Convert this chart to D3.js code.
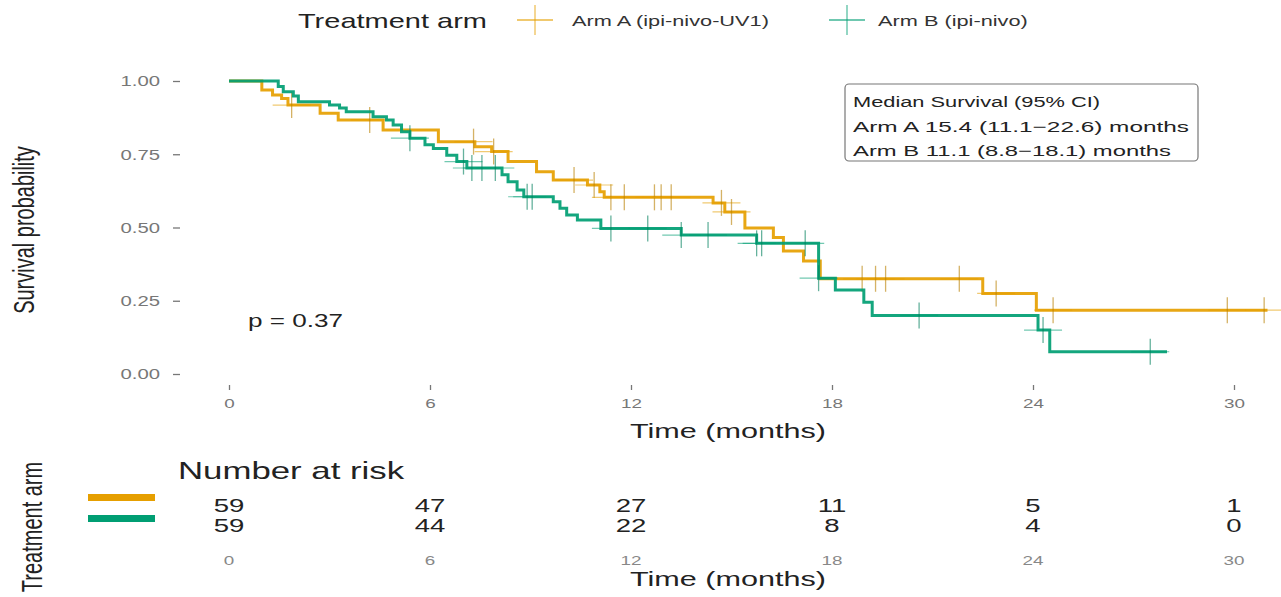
<!DOCTYPE html>
<html>
<head>
<meta charset="utf-8">
<script src="https://cdn.jsdelivr.net/npm/d3@7"></script>
<style>
  html, body { margin: 0; padding: 0; background: #fff; }
  svg { display: block; font-family: "Liberation Sans", Arial, sans-serif; }
</style>
</head>
<body>
<svg id="chart" width="1281" height="597"></svg>
<script>
// Kaplan-Meier steps: event times (months) and survival after each step
const armATimes = [0.98, 1.3, 1.57, 1.76, 2.72, 3.26, 4.6, 6.25, 7.34, 7.84, 8.33, 9.18, 9.68, 10.7, 11.07, 11.2, 14.45, 14.8, 15.4, 16.25, 16.55, 17.15, 17.65, 22.5, 24.1];
const armASurv  = [0.969, 0.952, 0.94, 0.918, 0.89, 0.867, 0.833, 0.793, 0.776, 0.759, 0.725, 0.69, 0.662, 0.645, 0.622, 0.603, 0.584, 0.553, 0.498, 0.466, 0.42, 0.386, 0.325, 0.275, 0.218];
const armAEnd = 31.0;
const armACensor = [1.87, 4.2, 7.3, 7.9, 10.3, 10.9, 11.4, 11.8, 12.7, 12.9, 13.2, 14.7, 15.0, 18.9, 19.3, 19.6, 21.8, 22.9, 24.6, 29.8, 30.9];

const armBTimes = [1.47, 1.62, 1.92, 2.07, 3.0, 3.3, 3.5, 4.3, 4.7, 4.9, 5.15, 5.4, 5.85, 6.1, 6.5, 6.8, 7.1, 8.15, 8.33, 8.6, 8.8, 9.68, 9.88, 10.08, 10.4, 11.1, 13.5, 15.75, 17.6, 18.1, 18.95, 19.2, 24.15, 24.5];
const armBSurv  = [0.981, 0.963, 0.949, 0.929, 0.918, 0.908, 0.895, 0.878, 0.867, 0.85, 0.827, 0.805, 0.782, 0.77, 0.747, 0.725, 0.703, 0.68, 0.656, 0.628, 0.605, 0.588, 0.566, 0.543, 0.526, 0.497, 0.474, 0.446, 0.327, 0.287, 0.245, 0.2, 0.15, 0.076];
const armBEnd = 28.0;
const armBCensor = [5.4, 7.0, 7.25, 7.55, 7.95, 8.9, 9.05, 11.4, 12.5, 13.5, 14.3, 15.75, 15.9, 17.2, 17.6, 20.6, 24.3, 27.5];

// Number at risk table
const riskTimes = [0, 6, 12, 18, 24, 30];
const riskA = [59, 47, 27, 11, 5, 1];
const riskB = [59, 44, 22, 8, 4, 0];

const yTicks = [0, 0.25, 0.5, 0.75, 1];
const armLabels = ["Arm A (ipi-nivo-UV1)", "Arm B (ipi-nivo)"];
const medianLines = ["Median Survival (95% CI)", "Arm A 15.4 (11.1\u221222.6) months", "Arm B 11.1 (8.8\u221218.1) months"];
const pText = "p = 0.37";

const colA = "#E69F00", colB = "#009E73";
const SX = 1.45;   // horizontal text stretch of the output

const svg = d3.select("#chart");
const x = d3.scaleLinear().domain([0, 30]).range([229, 1234]);
const y = d3.scaleLinear().domain([0, 1]).range([374, 81]);

function label(parent, px, py, str, o) {
  const t = parent.append("text")
    .attr("transform", `translate(${px},${py}) scale(${SX},1)` + (o.rotate ? ` rotate(${o.rotate})` : ""))
    .attr("text-anchor", o.anchor || "start")
    .style("font-size", o.size + "px")
    .attr("fill", o.fill || "#222")
    .text(str);
  if (o.dy) t.attr("dy", o.dy);
  if (o.width) t.attr("textLength", o.width / SX).attr("lengthAdjust", "spacingAndGlyphs");
  return t;
}

// ---- legend ----
const leg = svg.append("g");
label(leg, 298, 28, "Treatment arm", {size: 20, fill: "#222"});
function key(cx, col) {
  leg.append("line").attr("x1", cx - 18).attr("x2", cx + 18).attr("y1", 20).attr("y2", 20)
    .attr("stroke", col).attr("stroke-width", 1.6).attr("opacity", 0.75);
  leg.append("line").attr("x1", cx).attr("x2", cx).attr("y1", 5).attr("y2", 35)
    .attr("stroke", col).attr("stroke-width", 1.4).attr("opacity", 0.6);
}
key(535, colA);
label(leg, 572, 26, armLabels[0], {size: 15, fill: "#333"});
key(847, colB);
label(leg, 878, 26, armLabels[1], {size: 15, fill: "#333"});

// ---- axes ----
const yAxis = svg.append("g").attr("transform", "translate(180,0)")
  .call(d3.axisLeft(y).tickValues(yTicks).tickFormat(d3.format(".2f")).tickSize(7));
yAxis.select(".domain").remove();
yAxis.selectAll(".tick line").attr("stroke", "#777").attr("stroke-width", 1.3);
yAxis.selectAll(".tick text")
  .attr("x", null).attr("dy", "0.35em")
  .attr("transform", `translate(-20,0) scale(${SX},1)`)
  .attr("fill", "#777").style("font-size", "14px").style("font-family", null);

const xAxis = svg.append("g").attr("transform", "translate(0,385)")
  .call(d3.axisBottom(x).tickValues(riskTimes).tickSize(5));
xAxis.select(".domain").remove();
xAxis.selectAll(".tick line").attr("stroke", "#777").attr("stroke-width", 1.3);
xAxis.selectAll(".tick text")
  .attr("y", null).attr("dy", null)
  .attr("transform", `translate(0,23) scale(${SX},1)`)
  .attr("fill", "#777").style("font-size", "13px").style("font-family", null);

label(svg, 728, 438, "Time (months)", {size: 20, anchor: "middle", fill: "#222", width: 196});
label(svg, 34, 230, "Survival probability", {size: 20, anchor: "middle", fill: "#222", rotate: -90});

// ---- curves ----
const line = d3.line().x(d => x(d[0])).y(d => y(d[1])).curve(d3.curveStepAfter);
function steps(times, surv, end) {
  const pts = [[0, 1]];
  times.forEach((t, i) => pts.push([t, surv[i]]));
  pts.push([end, surv[surv.length - 1]]);
  return pts;
}
function survAt(times, surv, t) {
  let s = 1;
  times.forEach((tt, i) => { if (tt <= t) s = surv[i]; });
  return s;
}
const curves = svg.append("g");
function drawArm(times, surv, end, censor, col) {
  curves.append("path").datum(steps(times, surv, end))
    .attr("d", line).attr("fill", "none").attr("stroke", col)
    .attr("stroke-width", 3).attr("opacity", 0.92);
  const cg = curves.append("g");
  censor.forEach(c => {
    const cx = x(c), cy = y(survAt(times, surv, c));
    cg.append("line").attr("x1", cx - 19).attr("x2", cx + 19).attr("y1", cy).attr("y2", cy)
      .attr("stroke", col).attr("stroke-width", 1.2).attr("opacity", 0.55);
    cg.append("line").attr("x1", cx).attr("x2", cx).attr("y1", cy - 13).attr("y2", cy + 13)
      .attr("stroke", d3.color(col).darker(0.6)).attr("stroke-width", 1.3).attr("opacity", 0.6);
  });
}
drawArm(armATimes, armASurv, armAEnd, armACensor, colA);
drawArm(armBTimes, armBSurv, armBEnd, armBCensor, colB);

// ---- p value ----
label(svg, 248, 327, pText, {size: 18, fill: "#222"});

// ---- median box ----
const box = svg.append("g");
box.append("rect").attr("x", 845).attr("y", 84).attr("width", 353).attr("height", 77)
  .attr("rx", 4).attr("fill", "#fff").attr("stroke", "#777").attr("stroke-width", 1.2);
const medianWidths = [247, 336, 318];
medianLines.forEach((s, i) => label(box, 853, 107 + i * 24.5, s, {size: 15, fill: "#222", width: medianWidths[i]}));

// ---- risk table ----
const rt = svg.append("g");
label(rt, 178, 479, "Number at risk", {size: 24, fill: "#222"});
rt.append("rect").attr("x", 88).attr("y", 494).attr("width", 67).attr("height", 7).attr("fill", colA);
rt.append("rect").attr("x", 88).attr("y", 515).attr("width", 67).attr("height", 7).attr("fill", colB);
riskTimes.forEach((t, i) => {
  label(rt, x(t), 512, riskA[i], {size: 19, anchor: "middle", fill: "#222"});
  label(rt, x(t), 532, riskB[i], {size: 19, anchor: "middle", fill: "#222"});
  label(rt, x(t), 565, t, {size: 13, anchor: "middle", fill: "#888"});
});
label(rt, 728, 586, "Time (months)", {size: 20, anchor: "middle", fill: "#222", width: 196});
label(rt, 42, 527, "Treatment arm", {size: 20, anchor: "middle", fill: "#222", rotate: -90});
</script>
</body>
</html>
